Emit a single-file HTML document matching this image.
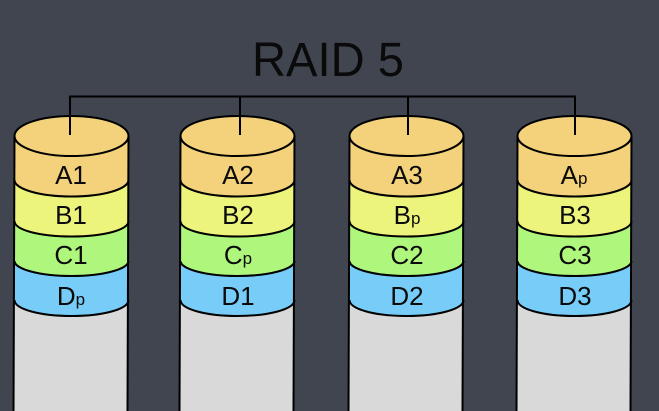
<!DOCTYPE html>
<html><head><meta charset="utf-8"><style>
html,body{margin:0;padding:0;background:#40454f;overflow:hidden;width:659px;height:411px}
svg{display:block}
text{font-family:"Liberation Sans",sans-serif;fill:#0a0a0a;text-anchor:middle}
.l{font-size:26px}
.p{font-size:17px}
</style></head><body>
<svg width="659" height="411" viewBox="0 0 659 411" xmlns="http://www.w3.org/2000/svg">
<defs>
<g id="cyl" stroke="#000" stroke-width="2">
<path d="M0 20 L-1 295 H113 L114 20 Z" fill="#d9d9d9" stroke="none"/>
<path d="M0 20 V184 C0 193 25 200 57 200 C89 200 114 193 114 184 V20 Z" fill="#78cdf8" stroke="none"/>
<path d="M0 20 V145 C0 153 25 160 57 160 C89 160 114 153 114 145 V20 Z" fill="#aef67c" stroke="none"/>
<path d="M0 20 V105 C0 114 25 120.500 57 120.500 C89 120.500 114 114 114 105 V20 Z" fill="#edf47c" stroke="none"/>
<path d="M0 20 V64 C0 73 25 80.500 57 80.500 C89 80.500 114 73 114 64 V20 Z" fill="#f4d27c" stroke="none"/>
<path d="M0 184 C0 193 25 200 57 200 C89 200 114 193 114 184" fill="none"/>
<path d="M0 145 C0 153 25 160 57 160 C89 160 114 153 114 145" fill="none"/>
<path d="M0 105 C0 114 25 120.500 57 120.500 C89 120.500 114 114 114 105" fill="none"/>
<path d="M0 64 C0 73 25 80.500 57 80.500 C89 80.500 114 73 114 64" fill="none"/>
<path d="M0 20 L-1 295 M114 20 L113 295" fill="none"/>
<ellipse cx="57" cy="20" rx="57" ry="20" fill="#f4d27c"/>
</g>
</defs>
<rect width="659" height="411" fill="#40454f"/>
<text x="328" y="76" font-size="48" textLength="152" lengthAdjust="spacingAndGlyphs">RAID 5</text>
<use href="#cyl" x="14.500" y="116"/>
<use href="#cyl" x="180.500" y="116"/>
<use href="#cyl" x="349.500" y="116"/>
<use href="#cyl" x="517.500" y="116"/>
<path d="M70 135 V96.500 H575 V135 M240 96 V135 M408 96 V135" fill="none" stroke="#000" stroke-width="2"/>
<text class="l" x="71" y="184">A1</text>
<text class="l" x="71" y="224">B1</text>
<text class="l" x="71" y="264">C1</text>
<text class="l" x="71" y="305">D<tspan class="p">p</tspan></text>
<text class="l" x="238" y="184">A2</text>
<text class="l" x="238" y="224">B2</text>
<text class="l" x="238" y="264">C<tspan class="p">p</tspan></text>
<text class="l" x="238" y="305">D1</text>
<text class="l" x="407" y="184">A3</text>
<text class="l" x="407" y="224">B<tspan class="p">p</tspan></text>
<text class="l" x="407" y="264">C2</text>
<text class="l" x="407" y="305">D2</text>
<text class="l" x="574" y="184">A<tspan class="p">p</tspan></text>
<text class="l" x="575" y="224">B3</text>
<text class="l" x="575" y="264">C3</text>
<text class="l" x="575" y="305">D3</text>
</svg>
</body></html>
